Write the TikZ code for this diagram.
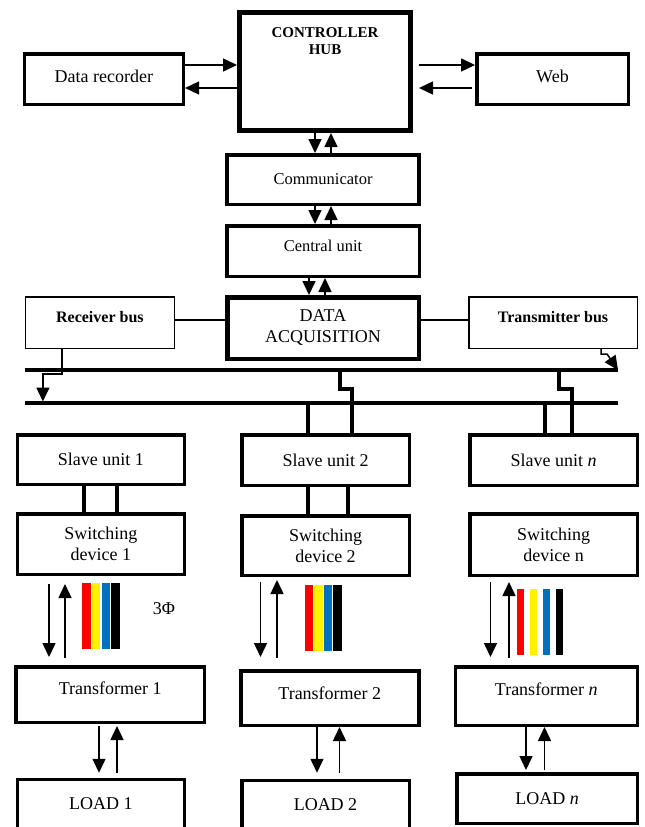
\documentclass[tikz,border=0pt]{standalone}
\usepackage{fontspec}
\setmainfont{Liberation Serif}
\usetikzlibrary{arrows.meta}
\definecolor{phblue}{RGB}{0,112,192}
\tikzset{
  blk/.style={draw,line width=3.5pt,inner sep=2pt,align=center},
  arr/.style={line width=1.5pt,-{Triangle[length=14pt,width=13pt]}},
  bus/.style={line width=4pt},
  sml/.style={font=\fontsize{16.5}{19}\selectfont},
}
\begin{document}
\begin{tikzpicture}[x=1pt,y=-1pt,font=\fontsize{18}{21}\selectfont]
  \useasboundingbox (0,0) rectangle (645,827);
  \clip (0,0) rectangle (645,827);
  % top row
  \node (rec) at (103.8,79) [blk,text depth=6pt,minimum width=159pt,minimum height=50.5pt] {Data recorder};
  \node (hub) at (325,71.5) [blk,line width=5pt,minimum width=171pt,minimum height=118pt,
    label={[anchor=north,yshift=-14pt,align=center,font=\bfseries\fontsize{15}{17}\selectfont]north:CONTROLLER\\HUB}] {};
  \node (web) at (552.5,79) [blk,text depth=6pt,minimum width=151.5pt,minimum height=50.5pt] {Web};
  \node (comm) at (323,179.5) [blk,sml,minimum width=191.6pt,minimum height=49.5pt] {Communicator};
  \node (cen) at (323,251) [blk,sml,text depth=10pt,minimum width=192.5pt,minimum height=50.5pt] {Central unit};
  \node (daq) at (323,328) [blk,line width=4.5pt,minimum width=191.5pt,minimum height=61.5pt] {DATA\\ACQUISITION};
  \node (rx) at (99.9,322.5) [blk,line width=1.5pt,text depth=11pt,font=\bfseries\fontsize{16}{19}\selectfont,minimum width=148.8pt,minimum height=51.5pt] {Receiver bus};
  \node (tx) at (553,322.5) [blk,line width=1.5pt,text depth=11pt,font=\bfseries\fontsize{16}{19}\selectfont,minimum width=168.5pt,minimum height=51.5pt] {Transmitter bus};
  % bus lines
  \coordinate (b1w) at (24.7,370);
  \coordinate (b1e) at (618,370);
  \coordinate (b2w) at (24.7,403);
  \coordinate (b2e) at (618,403);
  % slave columns
  \node (slave1) at (100.8,459.5) [blk,minimum width=166.9pt,minimum height=49.5pt] {Slave unit 1};
  \node (slave2) at (325.5,460) [blk,minimum width=167.5pt,minimum height=50.5pt] {Slave unit 2};
  \node (slaven) at (553.5,460) [blk,minimum width=167.5pt,minimum height=50.5pt] {Slave unit \textit{n}};
  \node (sw1) at (100.8,544) [blk,minimum width=166.9pt,minimum height=60.5pt] {Switching\\device 1};
  \node (sw2) at (325.5,545.5) [blk,minimum width=167.5pt,minimum height=59.5pt] {Switching\\device 2};
  \node (swn) at (553.5,544.5) [blk,minimum width=167.5pt,minimum height=61.5pt] {Switching\\device n};
  \node (tr1) at (110.2,694.5) [blk,text depth=13pt,minimum width=188.1pt,minimum height=55.5pt] {Transformer 1};
  \node (tr2) at (329.8,698) [blk,text depth=9pt,minimum width=178.1pt,minimum height=54.5pt] {Transformer 2};
  \node (trn) at (546.3,696) [blk,text depth=13pt,minimum width=182pt,minimum height=58.5pt] {Transformer \textit{n}};
  \node (load1) at (100.8,777.75) [blk,anchor=north,text depth=16pt,minimum width=166.9pt,minimum height=64pt] {LOAD 1};
  \node (load2) at (325.5,778.75) [blk,anchor=north,text depth=16pt,minimum width=167.5pt,minimum height=64pt] {LOAD 2};
  \node (loadn) at (547,798.5) [blk,minimum width=180.5pt,minimum height=49.5pt] {LOAD \textit{n}};
  \node (phase) at (164,609) {3Φ};

  % hub and side boxes
  \draw [arr] ([yshift=14pt]rec.east) -- ([yshift=14pt]rec.east -| hub.west);
  \draw [arr] ([yshift=-9pt]rec.east -| hub.west) -- ([yshift=-9pt]rec.east);
  \draw [arr,shorten <=6pt] ([yshift=14pt]web.west -| hub.east) -- ([yshift=14pt]web.west);
  \draw [arr,shorten <=3pt,shorten >=6pt] ([yshift=-9pt]web.west) -- ([yshift=-9pt]web.west -| hub.east);
  % vertical chain
  \draw [arr] ([xshift=-10pt]hub.south) -- ([xshift=-10pt]hub.south |- comm.north);
  \draw [arr] ([xshift=6pt]hub.south |- comm.north) -- ([xshift=6pt]hub.south);
  \draw [arr] ([xshift=-8pt]comm.south) -- ([xshift=-8pt]comm.south |- cen.north);
  \draw [arr] ([xshift=8pt]comm.south |- cen.north) -- ([xshift=8pt]comm.south);
  \draw [arr] ([xshift=-14pt]cen.south) -- ([xshift=-14pt]cen.south |- daq.north);
  \draw [arr] ([xshift=2pt]cen.south |- daq.north) -- ([xshift=2pt]cen.south);
  \draw [line width=1.2pt] ([yshift=2.5pt]rx.east) -- ([yshift=2.5pt]rx.east -| daq.west);
  \draw [line width=1.2pt] ([yshift=2.5pt]tx.west -| daq.east) -- ([yshift=2.5pt]tx.west);
  % buses
  \draw [bus] (b1w) -- (b1e);
  \draw [bus] (b2w) -- (b2e);
  \draw [arr] ([xshift=-38pt]rx.south) -- ++(0,25) -- ++(-19,0) -- ++(0,27.5);
  \draw [arr] ([xshift=48pt]tx.south) -- ++(0,5) -- ++(6,0) -- (b1e);
  \draw [bus] ([xshift=26.5pt]slave2.north) -- ++(0,-44) -- ++(-12,0) -- ++(0,-21);
  \draw [bus] ([xshift=-17.5pt]slave2.north) -- ([xshift=-17.5pt]slave2.north |- b2w);
  \draw [bus] ([xshift=18.5pt]slaven.north) -- ++(0,-44) -- ++(-13,0) -- ++(0,-21);
  \draw [bus] ([xshift=-8.5pt]slaven.north) -- ([xshift=-8.5pt]slaven.north |- b2w);
  % slave to switching
  \draw [bus] ([xshift=-16.8pt]slave1.south) -- ([xshift=-16.8pt]slave1.south |- sw1.north);
  \draw [bus] ([xshift=15.7pt]slave1.south) -- ([xshift=15.7pt]slave1.south |- sw1.north);
  \draw [bus] ([xshift=-17.5pt]slave2.south) -- ([xshift=-17.5pt]slave2.south |- sw2.north);
  \draw [bus] ([xshift=22.5pt]slave2.south) -- ([xshift=22.5pt]slave2.south |- sw2.north);
  % switching to transformer
  \draw [arr,shorten <=8pt,shorten >=8pt] ([xshift=-51.8pt]sw1.south) -- ([xshift=-51.8pt]sw1.south |- tr1.north);
  \draw [arr,shorten <=7pt,shorten >=8pt] ([xshift=-35.8pt]sw1.south |- tr1.north) -- ([xshift=-35.8pt]sw1.south);
  \draw [arr,shorten <=5pt,shorten >=12pt] ([xshift=-65pt]sw2.south) -- ([xshift=-65pt]sw2.south |- tr2.north);
  \draw [arr,shorten <=11pt,shorten >=3pt] ([xshift=-48.5pt]sw2.south |- tr2.north) -- ([xshift=-48.5pt]sw2.south);
  \draw [arr,shorten <=5pt,shorten >=8pt] ([xshift=-63pt]swn.south) -- ([xshift=-63pt]swn.south |- trn.north);
  \draw [arr,shorten <=7pt,shorten >=5pt] ([xshift=-44.5pt]swn.south |- trn.north) -- ([xshift=-44.5pt]swn.south);
  % transformer to load
  \draw [arr,shorten <=2pt,shorten >=5pt] ([xshift=-11.2pt]tr1.south) -- ([xshift=-11.2pt]tr1.south |- load1.north);
  \draw [arr,shorten <=5pt,shorten >=2pt] ([xshift=6.8pt]tr1.south |- load1.north) -- ([xshift=6.8pt]tr1.south);
  \draw [arr,shorten >=6pt] ([xshift=-12.8pt]tr2.south) -- ([xshift=-12.8pt]tr2.south |- load2.north);
  \draw [arr,shorten <=6pt] ([xshift=9.7pt]tr2.south |- load2.north) -- ([xshift=9.7pt]tr2.south);
  \draw [arr,shorten >=2pt] ([xshift=-20.3pt]trn.south) -- ([xshift=-20.3pt]trn.south |- loadn.north);
  \draw [arr,shorten <=2pt] ([xshift=-1.8pt]trn.south |- loadn.north) -- ([xshift=-1.8pt]trn.south);
  % three phase bars
  \foreach \c [count=\i from 0] in {red,yellow,phblue,black} {
    \fill [\c] (82+\i*9.8,583) rectangle ++(8.5,66);
    \fill [\c] (304.5+\i*9.6,585) rectangle ++(8.5,66);
    \fill [\c] (516.5+\i*13,589) rectangle ++(7.5,66);
  }
\end{tikzpicture}
\end{document}
